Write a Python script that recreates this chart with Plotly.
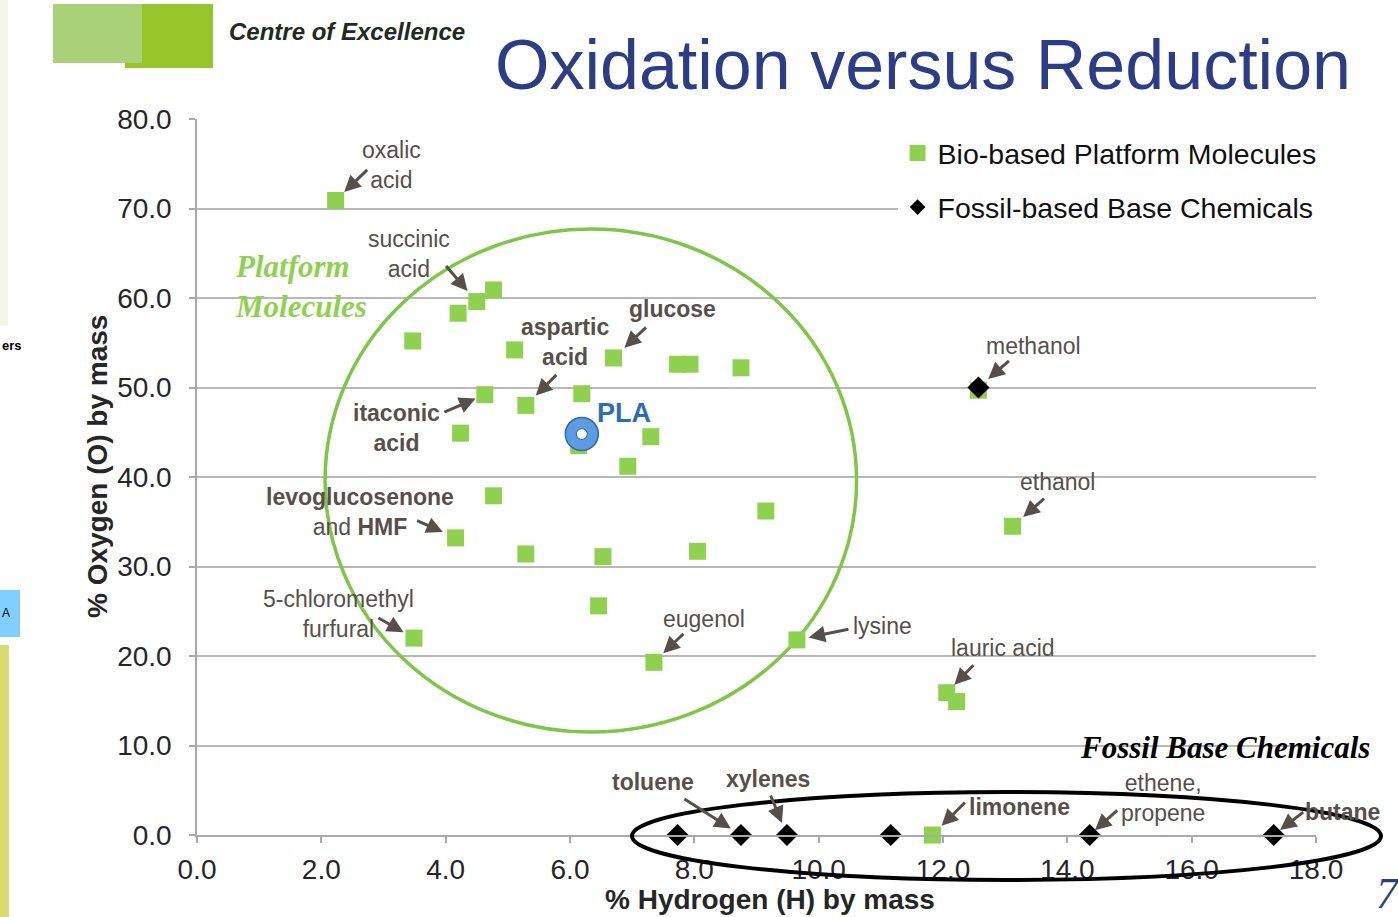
import plotly.graph_objects as go

# ---- data (% H, % O by mass) ----
bio_h = [2.23, 3.47, 4.20, 4.50, 4.77, 5.11, 6.70, 7.73, 7.93, 8.75,
         4.63, 5.29, 6.19, 4.24, 6.14, 7.30, 6.93, 4.77, 4.16, 5.29,
         6.53, 8.05, 9.15, 6.46, 3.49, 7.35, 9.65, 12.06, 12.22, 13.12,
         12.57, 11.83]
bio_o = [70.9, 55.2, 58.3, 59.6, 60.9, 54.2, 53.3, 52.6, 52.6, 52.2,
         49.2, 48.0, 49.3, 44.9, 43.5, 44.5, 41.2, 37.9, 33.2, 31.4,
         31.1, 31.7, 36.2, 25.6, 22.0, 19.3, 21.8, 15.9, 14.9, 34.5,
         49.7, 0.0]

fossil_h = [7.73, 8.75, 9.49, 11.16, 14.36, 17.32, 12.57]
fossil_o = [0.0, 0.0, 0.0, 0.0, 0.0, 0.0, 50.0]

pla_h = [6.19]
pla_o = [44.8]

x_ticks = [0, 2, 4, 6, 8, 10, 12, 14, 16, 18]
y_ticks = [0, 10, 20, 30, 40, 50, 60, 70, 80]

# labelled points: (text, series, index, text shift x/y, arrow tail x/y, standoff)
labels = [
    ("oxalic<br>acid", "bio", 0, 56, 35, 33, -32, 12),
    ("succinic<br>acid", "bio", 3, -68, 48, -32, -37, 14),
    ("<b>glucose</b>", "bio", 6, 59, 49, 34, -32, 15),
    ("<b>aspartic<br>acid</b>", "bio", 11, 39, 63, 32, -32, 14),
    ("<b>itaconic<br>acid</b>", "bio", 10, -88, -33, -42, 18, 10),
    ("<b>levoglucosenone</b><br>and <b>HMF</b>", "bio", 18, -96, 26, -40, -18, 14),
    ("5-chloromethyl<br>furfural", "bio", 24, -75, 24, -37, -21, 12),
    ("eugenol", "bio", 25, 50, 43, 31, -30, 13),
    ("lysine", "bio", 26, 86, 14, 53, -11, 12),
    ("methanol", "fossil", 6, 55, 42, 32, -28, 13),
    ("ethanol", "bio", 29, 45, 44, 33, -29, 14),
    ("lauric acid", "bio", 27, 56, 45, 28, -29, 11),
    ("<b>toluene</b>", "fossil", 1, -88, 53, -58, -37, 12),
    ("<b>xylenes</b>", "fossil", 2, -19, 56, -17, -41, 13),
    ("<b>limonene</b>", "bio", 31, 87, 28, 34, -34, 13),
    ("ethene,<br>propene", "fossil", 4, 73, 37, 29, -26, 7),
    ("<b>butane</b>", "fossil", 5, 69, 23, 31, -24, 8),
]

GREEN = "#8ED14F"
TEXT = "#57504A"
SANS = "Liberation Sans, Arial, sans-serif"
SERIF = "Liberation Serif, Times New Roman, serif"

# plot area in pixels (for paper-referenced decorations)
L, R, T, B = 197, 1316, 119, 835


def px(x):
    return (x - L) / (R - L)


def py(y):
    return (B - y) / (B - T)


def note(x, y, text, size, color, family=SANS, xanchor="center", **kw):
    fig.add_annotation(xref="paper", yref="paper", x=px(x), y=py(y),
                       xanchor=xanchor, yanchor="middle", showarrow=False,
                       text=text, font=dict(family=family, size=size, color=color),
                       **kw)


fig = go.Figure()

fig.add_trace(go.Scatter(
    x=bio_h, y=bio_o, mode="markers", showlegend=False, hoverinfo="skip",
    cliponaxis=False,
    marker=dict(symbol="square", size=17, color=GREEN, line=dict(width=0)),
))
fig.add_trace(go.Scatter(
    x=fossil_h, y=fossil_o, mode="markers", showlegend=False, hoverinfo="skip",
    cliponaxis=False,
    marker=dict(symbol="diamond", size=17, color="black", line=dict(width=0)),
))
# PLA ring marker
fig.add_trace(go.Scatter(
    x=pla_h, y=pla_o, mode="markers", showlegend=False, hoverinfo="skip",
    marker=dict(symbol="circle", size=33, color="#5C9BE2",
                line=dict(width=1.5, color="#2F68B0")),
))
fig.add_trace(go.Scatter(
    x=pla_h, y=pla_o, mode="markers", showlegend=False, hoverinfo="skip",
    marker=dict(symbol="circle", size=11, color="white",
                line=dict(width=1.2, color="#3A74BC")),
))

# legend-only entries
fig.add_trace(go.Scatter(
    x=[None], y=[None], mode="markers", name="Bio-based Platform Molecules",
    legendgroup="a", marker=dict(symbol="square", size=16, color=GREEN),
))
fig.add_trace(go.Scatter(
    x=[None], y=[None], mode="markers", name="Fossil-based Base Chemicals",
    legendgroup="b", marker=dict(symbol="diamond", size=12, color="black"),
))

series = {"bio": (bio_h, bio_o), "fossil": (fossil_h, fossil_o)}
for text, s, i, tdx, tdy, adx, ady, so in labels:
    xs, ys = series[s]
    fig.add_annotation(x=xs[i], y=ys[i], text="", showarrow=True,
                       ax=adx, ay=ady, arrowhead=2, arrowsize=1.1,
                       arrowwidth=3, arrowcolor=TEXT, standoff=so)
    fig.add_annotation(x=xs[i], y=ys[i], text=text, showarrow=False,
                       xshift=tdx, yshift=tdy, align="center",
                       xanchor="center", yanchor="middle",
                       font=dict(family=SANS, size=23, color=TEXT))

fig.add_annotation(x=pla_h[0], y=pla_o[0], text="<b>PLA</b>", showarrow=False,
                   xshift=42, yshift=21, xanchor="center", yanchor="middle",
                   font=dict(family=SANS, size=27, color="#2E6DB4"))

# group outlines
fig.add_shape(type="circle", xref="x", yref="y", x0=2.06, x1=10.61,
              y0=11.5, y1=67.7, layer="between",
              line=dict(color="#7DC646", width=3.5))
fig.add_shape(type="circle", xref="paper", yref="paper",
              x0=px(632), x1=px(1381), y0=py(880), y1=py(792), layer="above",
              line=dict(color="black", width=4))

note(233, 286, "<b><i>Platform<br>Molecules</i></b>", 31, GREEN,
     family=SERIF, xanchor="left", align="left")
note(1225, 747, "<b><i>Fossil Base Chemicals</i></b>", 31, "black", family=SERIF)

# axis titles
note(770, 900, "<b>% Hydrogen (H) by mass</b>", 28, "#262626")
note(97, 467, "<b>% Oxygen (O) by mass</b>", 28, "#262626", textangle=-90)

# slide header
fig.add_shape(type="rect", xref="paper", yref="paper", layer="above",
              x0=px(125), x1=px(213), y0=py(68), y1=py(4),
              fillcolor="#96C52A", line=dict(width=0))
fig.add_shape(type="rect", xref="paper", yref="paper", layer="above",
              x0=px(53), x1=px(142), y0=py(63), y1=py(4),
              fillcolor="#A8D178", line=dict(width=0))
note(227, 31, "<b><i>Centre of Excellence</i></b>", 24, "#1E2B1E", xanchor="left")
note(923, 65, "Oxidation versus Reduction", 70, "#2B3D86")
note(1388, 893, "<i>7</i>", 44, "#2B3D86", family=SERIF)

# bits of the neighbouring window at the left edge
fig.add_shape(type="rect", xref="paper", yref="paper", layer="above",
              x0=px(0), x1=px(8), y0=py(325), y1=py(0),
              fillcolor="#F3F6E3", line=dict(width=0))
fig.add_shape(type="rect", xref="paper", yref="paper", layer="above",
              x0=px(-6), x1=px(20), y0=py(637), y1=py(590),
              fillcolor="#80CFFF", line=dict(width=0))
fig.add_shape(type="rect", xref="paper", yref="paper", layer="above",
              x0=px(0), x1=px(9), y0=py(917), y1=py(645),
              fillcolor="#D3DC6C", line=dict(width=0))
note(0, 345, "<b>ers</b>", 13, "black", xanchor="left")
note(6, 613, "A", 12, "black")

axis_common = dict(
    showline=True, linecolor="#A8A8A8", linewidth=1.5,
    ticks="outside", ticklen=6, tickcolor="#A8A8A8", tickwidth=1.5,
    tickformat=".1f", zeroline=False,
    tickfont=dict(family=SANS, size=28, color="#262626"),
)

fig.update_layout(
    width=1398, height=917,
    margin=dict(l=L, r=1398 - R, t=T, b=917 - B),
    paper_bgcolor="white", plot_bgcolor="white",
    xaxis=dict(range=[0, 18], tickvals=x_ticks, showgrid=False,
               ticklabelstandoff=3, **axis_common),
    yaxis=dict(range=[0, 80], tickvals=y_ticks, showgrid=True,
               gridcolor="#B8B8B8", gridwidth=1.5,
               ticklabelstandoff=12, **axis_common),
    showlegend=True,
    legend=dict(x=1.005, xanchor="right", y=py(128), yanchor="top",
                bgcolor="white", borderwidth=0, tracegroupgap=14,
                font=dict(family=SANS, size=28.5, color="#111111")),
)

# the page's default 8px body margin would shift the figure
fig.write_html("out.html", config={"displayModeBar": False},
               post_script="document.body.style.margin='0';")
